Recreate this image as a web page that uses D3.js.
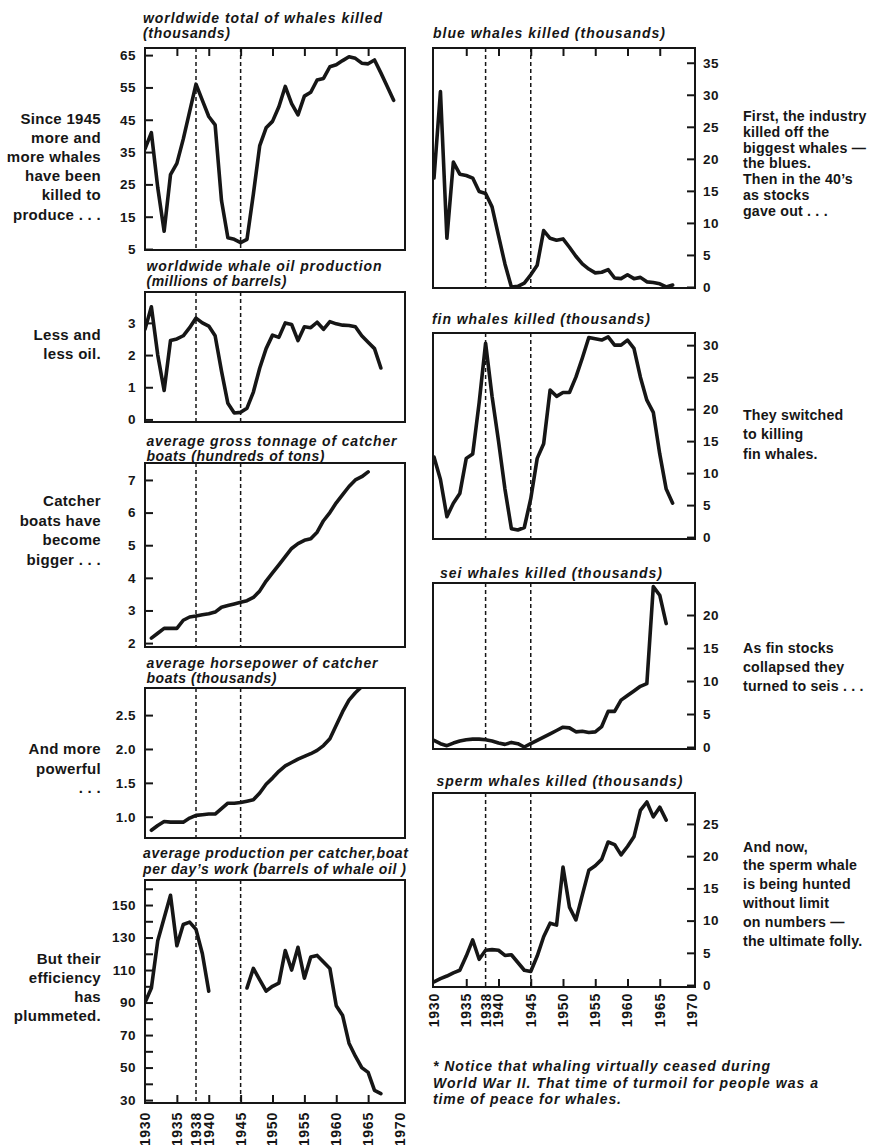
<!DOCTYPE html>
<html><head><meta charset="utf-8">
<script src="https://cdn.jsdelivr.net/npm/d3@7"></script>
<style>
body{margin:0;background:#fff;}
svg{display:block;}
text{font-family:"Liberation Sans",Arial,Helvetica,sans-serif;fill:#161616;}
.title{font-weight:bold;font-style:italic;font-size:14px;}
.tick text{font-weight:bold;font-size:13.5px;font-family:"Liberation Sans",Arial,sans-serif;fill:#161616;letter-spacing:0.5px;}
.xlab{font-weight:bold;font-size:14px;letter-spacing:0.8px;}
.noteL{font-weight:bold;font-size:15px;letter-spacing:0.3px;}
.noteR{font-weight:bold;font-size:14.2px;letter-spacing:0.2px;}
.foot{font-weight:bold;font-style:italic;font-size:14px;}
</style></head><body>
<svg id="c" width="877" height="1145"></svg>
<script>
// ---------------- data ----------------
const axisYears = [1930, 1935, 1938, 1940, 1945, 1950, 1955, 1960, 1965, 1970];
const tickYears = [1935, 1940, 1945, 1950, 1955, 1960, 1965];
const warYears = [1938, 1945];

const totalStart = 1930;
const totalKilled = [36, 41, 24, 10.5, 28, 31.5, 39, 47.5, 56, 51, 46, 43.4, 20, 8.5, 8, 7, 8, 22, 37, 42.5,
  44.5, 49, 55.3, 50, 46.5, 52.3, 53.5, 57.3, 57.8, 61.4, 62, 63.3, 64.5, 64, 62.5, 62.3, 63.5, 59.5, 55.3, 51];

const oilStart = 1930;
const oilProduction = [2.8, 3.5, 2.0, 0.9, 2.45, 2.5, 2.6, 2.85, 3.15, 3.0, 2.9, 2.6, 1.5, 0.5, 0.2, 0.22, 0.35, 0.85,
  1.6, 2.2, 2.62, 2.55, 3.0, 2.95, 2.45, 2.88, 2.85, 3.02, 2.8, 3.04, 2.97, 2.93, 2.92, 2.88, 2.6, 2.4, 2.2, 1.6];

const tonnageStart = 1931;
const tonnage = [2.15, 2.3, 2.45, 2.45, 2.45, 2.7, 2.8, 2.83, 2.87, 2.9, 2.95, 3.1, 3.15, 3.2, 3.25, 3.3, 3.4, 3.6,
  3.9, 4.15, 4.4, 4.65, 4.9, 5.05, 5.15, 5.2, 5.4, 5.75, 6.0, 6.3, 6.55, 6.8, 7.0, 7.1, 7.25];

const horsepowerStart = 1931;
const horsepower = [0.8, 0.87, 0.93, 0.92, 0.92, 0.92, 0.98, 1.02, 1.03, 1.04, 1.04, 1.12, 1.2, 1.2, 1.21, 1.23, 1.25,
  1.35, 1.48, 1.57, 1.67, 1.75, 1.8, 1.85, 1.89, 1.93, 1.98, 2.05, 2.15, 2.35, 2.55, 2.72, 2.83, 2.92, 3.05];

const productionStart = 1930;
const production = [90, 99, 128, 142, 156, 125, 138, 139.5, 135, 120, 97, null, null, null, null, null,
  99, 111, 104, 97, 100, 102, 122, 110, 124, 105, 118, 119, 115, 111, 88, 82, 65, 57, 50, 47, 36, 34];

const blueStart = 1930;
const blueKilled = [17, 30.5, 7.6, 19.5, 17.6, 17.4, 17, 14.9, 14.6, 12.5, 8, 3.6, 0, 0.1, 0.6, 1.9, 3.4, 8.8, 7.6,
  7.3, 7.5, 6.2, 4.8, 3.6, 2.8, 2.2, 2.3, 2.7, 1.4, 1.3, 1.9, 1.3, 1.5, 0.8, 0.7, 0.5, 0, 0.3];

const finStart = 1930;
const finKilled = [12.5, 9, 3.2, 5.3, 6.8, 12.3, 13, 21, 30.3, 22, 15, 7.5, 1.3, 1.1, 1.5, 6, 12.3, 14.6, 23, 22,
  22.6, 22.6, 25, 28, 31.2, 31, 30.8, 31.3, 30, 30, 30.8, 29.5, 25, 21.4, 19.5, 13, 7.5, 5.3];

const seiStart = 1930;
const seiKilled = [1, 0.5, 0.2, 0.6, 0.9, 1.1, 1.2, 1.2, 1.1, 0.9, 0.6, 0.4, 0.7, 0.5, 0, 0.5, 1.0, 1.5, 2.0, 2.5,
  3.0, 2.9, 2.3, 2.4, 2.2, 2.3, 3.1, 5.4, 5.4, 7.1, 7.8, 8.5, 9.2, 9.6, 24.3, 23, 18.7];

const spermStart = 1930;
const spermKilled = [0.5, 1.0, 1.4, 1.9, 2.3, 4.5, 7, 4, 5.4, 5.5, 5.4, 4.6, 4.7, 3.5, 2.3, 2.1, 4.5, 7.5, 9.6, 9.3,
  18.3, 12.1, 10.1, 14, 17.8, 18.5, 19.5, 22.2, 21.8, 20.2, 21.5, 23, 27.1, 28.4, 26.1, 27.6, 25.6];

// ---------------- layout ----------------
const ink = '#161616';
const svg = d3.select('#c');
const defs = svg.append('defs');
const xL = d3.scaleLinear().domain([1930, 1970]).range([145, 400]);
const xR = d3.scaleLinear().domain([1930, 1970]).range([434, 692]);

function toSeries(start, vals) { return vals.map((v, i) => ({year: start + i, v: v})); }

const panels = [
  {id: 'total', side: 'L', top: 48, bottom: 250, dom: [4.7, 67.2], ticks: [5, 15, 25, 35, 45, 55, 65],
   data: toSeries(totalStart, totalKilled), topTicks: true,
   title: ['worldwide total of whales killed', '(thousands)'], tw: [239, 87], tx: 143, ty: [23, 38]},
  {id: 'oil', side: 'L', top: 292, bottom: 422, dom: [-0.08, 3.96], ticks: [0, 1, 2, 3],
   data: toSeries(oilStart, oilProduction),
   title: ['worldwide whale oil production', '(millions of barrels)'], tw: [235, 140], tx: 146.5, ty: [271, 286]},
  {id: 'ton', side: 'L', top: 463, bottom: 647, dom: [1.88, 7.52], ticks: [2, 3, 4, 5, 6, 7],
   data: toSeries(tonnageStart, tonnage),
   title: ['average gross tonnage of catcher', 'boats (hundreds of tons)'], tw: [250, 178], tx: 146.5, ty: [446, 461]},
  {id: 'hp', side: 'L', top: 688, bottom: 838, dom: [0.686, 2.9], ticks: [1.0, 1.5, 2.0, 2.5], fmt: d3.format('.1f'),
   data: toSeries(horsepowerStart, horsepower),
   title: ['average horsepower of catcher', 'boats (thousands)'], tw: [231, 130], tx: 146.5, ty: [668, 683]},
  {id: 'prod', side: 'L', top: 880, bottom: 1103, dom: [28.2, 165.4], ticks: [30, 50, 70, 90, 110, 130, 150],
   minor: [40, 60, 80, 100, 120, 140, 160], data: toSeries(productionStart, production), bottomAxis: true, labelY: 1112,
   title: ['average production per catcher,boat', 'per day\u2019s work (barrels of whale oil )'], tw: [265, 263], tx: 143, ty: [858, 874]},
  {id: 'blue', side: 'R', top: 48, bottom: 288, dom: [-0.16, 37.3], ticks: [0, 5, 10, 15, 20, 25, 30, 35],
   data: toSeries(blueStart, blueKilled), topTicks: true,
   title: ['blue whales killed (thousands)'], tw: [232], tx: 433, ty: [38]},
  {id: 'fin', side: 'R', top: 333, bottom: 539, dom: [-0.3, 31.9], ticks: [0, 5, 10, 15, 20, 25, 30],
   data: toSeries(finStart, finKilled),
   title: ['fin whales killed (thousands)'], tw: [218], tx: 432, ty: [324]},
  {id: 'sei', side: 'R', top: 583, bottom: 749, dom: [-0.3, 24.85], ticks: [0, 5, 10, 15, 20],
   data: toSeries(seiStart, seiKilled),
   title: ['sei whales killed (thousands)'], tw: [222], tx: 440, ty: [578]},
  {id: 'sperm', side: 'R', top: 793, bottom: 987, dom: [-0.3, 29.8], ticks: [0, 5, 10, 15, 20, 25],
   data: toSeries(spermStart, spermKilled), bottomAxis: true, labelY: 993,
   title: ['sperm whales killed (thousands)'], tw: [246], tx: 436.5, ty: [786]}
];

panels.forEach(p => {
  const x = p.side === 'L' ? xL : xR;
  const [x0, x1] = p.side === 'L' ? [145, 405] : [433, 695];
  const y = d3.scaleLinear().domain(p.dom).range([p.bottom, p.top]);
  const g = svg.append('g');

  defs.append('clipPath').attr('id', 'clip-' + p.id).append('rect')
    .attr('x', x0).attr('y', p.top).attr('width', x1 - x0).attr('height', p.bottom - p.top);

  // war period markers
  warYears.forEach(yr => g.append('line')
    .attr('x1', x(yr)).attr('x2', x(yr)).attr('y1', p.top).attr('y2', p.bottom)
    .attr('stroke', ink).attr('stroke-width', 1.5).attr('stroke-dasharray', '4,3'));

  // data line
  g.append('path').datum(p.data)
    .attr('clip-path', `url(#clip-${p.id})`)
    .attr('fill', 'none').attr('stroke', ink).attr('stroke-width', 3.6)
    .attr('stroke-linejoin', 'round').attr('stroke-linecap', 'round')
    .attr('d', d3.line().defined(d => d.v != null).x(d => x(d.year)).y(d => y(d.v)));

  // frame
  g.append('rect').attr('x', x0).attr('y', p.top).attr('width', x1 - x0).attr('height', p.bottom - p.top)
    .attr('fill', 'none').attr('stroke', ink).attr('stroke-width', 2);

  // y axis
  const ax = (p.side === 'L' ? d3.axisLeft(y).tickPadding(9) : d3.axisRight(y).tickPadding(8))
    .tickValues(p.ticks).tickSize(-8).tickFormat(p.fmt || d3.format('d'));
  const ag = g.append('g').attr('transform', `translate(${p.side === 'L' ? x0 : x1},0)`).call(ax);
  ag.select('.domain').remove();
  ag.selectAll('.tick line').attr('stroke', ink).attr('stroke-width', 2);
  if (p.minor) {
    const mg = g.append('g').attr('transform', `translate(${x0},0)`)
      .call(d3.axisLeft(y).tickValues(p.minor).tickSize(-8).tickFormat(''));
    mg.select('.domain').remove();
    mg.selectAll('.tick line').attr('stroke', ink).attr('stroke-width', 2);
  }

  // top ticks
  if (p.topTicks) {
    const tg = g.append('g').attr('transform', `translate(0,${p.top})`)
      .call(d3.axisTop(x).tickValues(tickYears).tickSize(-8).tickFormat(''));
    tg.select('.domain').remove();
    tg.selectAll('.tick line').attr('stroke', ink).attr('stroke-width', 2);
  }
  // bottom axis with rotated year labels
  if (p.bottomAxis) {
    const bg = g.append('g').attr('transform', `translate(0,${p.bottom})`)
      .call(d3.axisBottom(x).tickValues(tickYears).tickSize(-8).tickFormat(''));
    bg.select('.domain').remove();
    bg.selectAll('.tick line').attr('stroke', ink).attr('stroke-width', 2);
    g.selectAll('.xlab-' + p.id).data(axisYears).enter().append('text')
      .attr('class', 'xlab')
      .attr('transform', d => `translate(${x(d)},${p.labelY}) rotate(-90)`)
      .attr('text-anchor', 'end').attr('dy', '0.35em').text(d => d);
  }

  // title
  p.title.forEach((t, i) => g.append('text').attr('class', 'title')
    .attr('x', p.tx).attr('y', p.ty[i])
    .attr('textLength', p.tw[i]).attr('lengthAdjust', 'spacing').text(t));
});

// ---------------- annotations ----------------
const leftNotes = [
  {lines: ['Since 1945', 'more and', 'more whales', 'have been', 'killed to', 'produce . . .'], y: 123.5, dy: 19.2},
  {lines: ['Less and', 'less oil.'], y: 339.5, dy: 19},
  {lines: ['Catcher', 'boats have', 'become', 'bigger . . .'], y: 506, dy: 19.5},
  {lines: ['And more', 'powerful', '. . .'], y: 754, dy: 19.5},
  {lines: ['But their', 'efficiency', 'has', 'plummeted.'], y: 964, dy: 19}
];
leftNotes.forEach(n => n.lines.forEach((t, i) => svg.append('text').attr('class', 'noteL')
  .attr('x', 101).attr('y', n.y + i * n.dy).attr('text-anchor', 'end').text(t)));

const rightNotes = [
  {lines: ['First, the industry', 'killed off the', 'biggest whales \u2014', 'the blues.', 'Then in the 40\u2019s', 'as stocks', 'gave out . . .'], y: 121, dy: 15.8},
  {lines: ['They switched', 'to killing', 'fin whales.'], y: 419.5, dy: 19.5},
  {lines: ['As fin stocks', 'collapsed they', 'turned to seis . . .'], y: 652.5, dy: 19},
  {lines: ['And now,', 'the sperm whale', 'is being hunted', 'without limit', 'on numbers \u2014', 'the ultimate folly.'], y: 851.5, dy: 18.9}
];
rightNotes.forEach(n => n.lines.forEach((t, i) => svg.append('text').attr('class', 'noteR')
  .attr('x', 743).attr('y', n.y + i * n.dy).text(t)));

const footnote = ['* Notice that whaling virtually ceased during',
  'World War II. That time of turmoil for people was a',
  'time of peace for whales.'];
const footWidths = [337, 385, 188];
footnote.forEach((t, i) => svg.append('text').attr('class', 'foot')
  .attr('x', 433).attr('y', 1071 + i * 16.5)
  .attr('textLength', footWidths[i]).attr('lengthAdjust', 'spacing').text(t));
</script>
</body></html>
